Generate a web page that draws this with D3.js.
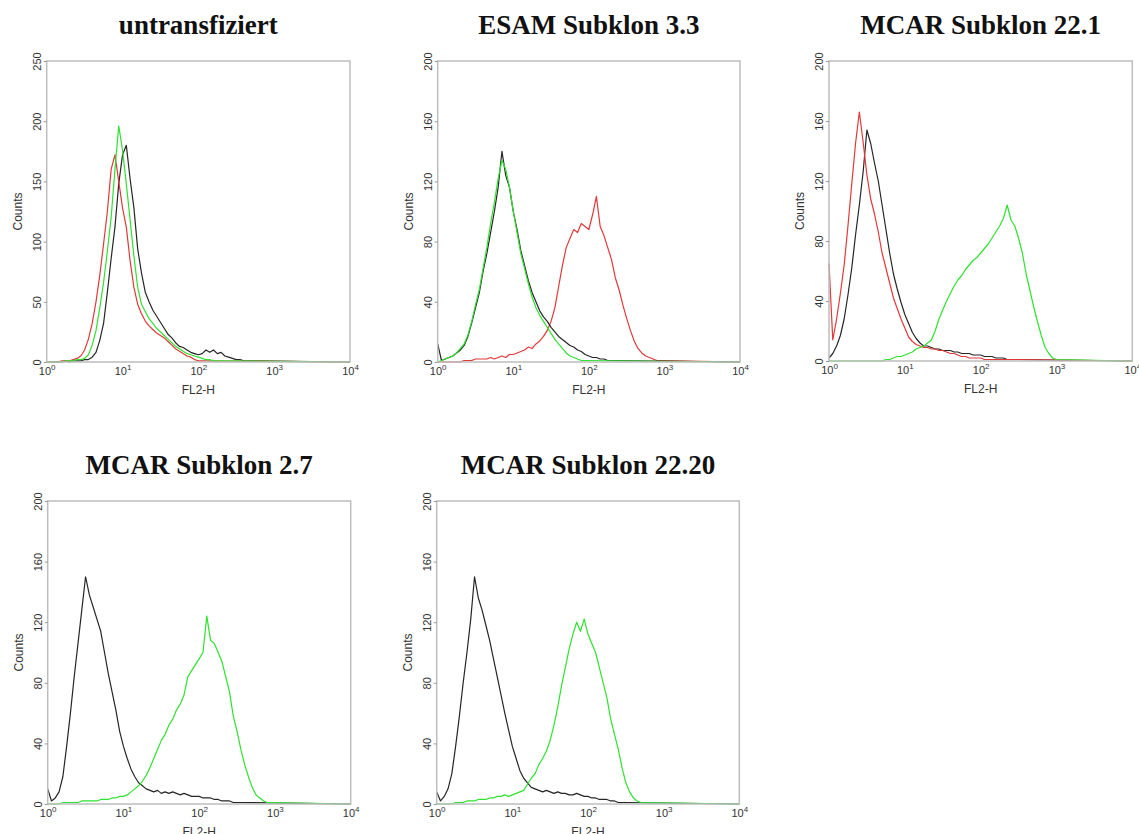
<!DOCTYPE html>
<html>
<head>
<meta charset="utf-8">
<script src="https://cdnjs.cloudflare.com/ajax/libs/d3/7.8.5/d3.min.js"></script>
<style>
  body { margin: 0; background: #fff; }
  svg { display: block; }
</style>
</head>
<body>
<svg id="chart" width="1139" height="834"></svg>
<script>
// histogram counts, one value every LOG_STEP decades starting at 10^0
const LOG_STEP = 0.05;

const titles = ['untransfiziert', 'ESAM Subklon 3.3', 'MCAR Subklon 22.1', 'MCAR Subklon 2.7', 'MCAR Subklon 22.20'];
const yMaxes = [250, 200, 200, 200, 200];
const yTicks = [
  [0, 50, 100, 150, 200, 250],
  [0, 40, 80, 120, 160, 200],
  [0, 40, 80, 120, 160, 200],
  [0, 40, 80, 120, 160, 200],
  [0, 40, 80, 120, 160, 200]
];
const decades = [1, 10, 100, 1000, 10000];
const xLabel = 'FL2-H';
const yLabel = 'Counts';

// untransfiziert
const p1Black = [0,0,0,0,0,1,0,1,1,1,2,2,4,8,18,32,58,86,112,148,172,180,152,128,94,74,58,50,43,38,33,28,23,20,16,13,12,10,8,7,6,7,10,8,10,7,8,5,4,3,2,2,1,1,1];
const p1Red = [0,0,0,0,1,1,1,2,3,5,10,19,32,50,72,98,125,160,172,150,128,112,84,62,48,40,34,30,27,24,22,20,17,14,11,9,7,5,4,2,1,1];
const p1Green = [0,0,0,0,0,1,1,1,2,2,3,6,14,26,45,66,92,120,160,196,176,148,118,88,62,48,42,36,32,28,25,22,19,16,13,11,9,7,6,5,4,3,2,2,1,1];

// ESAM Subklon 3.3
const p2Black = [12,1,2,3,4,6,8,11,17,26,36,46,60,72,86,100,116,140,124,116,100,88,74,64,54,46,40,34,30,27,23,20,17,15,13,11,10,8,7,5,4,3,3,2,2,1,1];
const p2Green = [0,1,2,3,4,6,9,12,18,27,38,48,62,76,92,106,122,134,128,116,100,86,72,62,52,43,36,31,27,23,19,15,12,9,6,4,3,2,1,1];
const p2Red = [0,0,0,0,0,0,0,1,1,1,2,2,2,2,3,2,3,4,3,5,5,6,7,8,10,9,12,14,17,21,27,36,50,64,76,82,88,86,92,90,88,98,110,90,84,76,68,56,48,38,29,21,14,9,6,4,3,2,1,1];

// MCAR Subklon 22.1
const p3Red = [65,14,28,45,64,90,118,145,166,146,124,108,98,86,72,62,52,42,35,28,22,16,13,11,10,9,9,8,8,7,7,6,5,5,4,3,3,2,2,2,2,1,1,1,1,1,1,1,1,1,1];
const p3Black = [2,5,10,17,28,44,62,84,104,126,154,145,132,120,104,88,72,58,48,39,31,25,19,15,12,10,10,9,8,8,7,7,7,6,6,5,5,5,4,4,4,3,3,3,2,2,2,1,1,1,1];
const p3Green = [0,0,0,0,0,0,0,0,0,0,0,0,0,0,0,1,1,2,3,3,4,5,6,8,9,10,12,14,20,28,34,40,45,50,54,57,61,64,67,69,72,75,78,82,86,90,95,104,94,90,82,72,58,47,36,26,17,9,5,2,1];

// MCAR Subklon 2.7
const p4Black = [10,2,4,8,18,38,60,84,106,128,150,138,130,122,114,100,86,74,62,48,38,30,23,18,14,12,10,9,8,9,7,8,7,8,7,6,7,6,5,5,5,4,4,4,3,3,2,2,2,1,1,1];
const p4Green = [0,0,0,0,1,1,1,1,1,2,2,2,2,2,3,3,3,4,4,5,5,6,8,10,12,15,19,24,30,36,42,46,52,56,62,66,72,84,88,92,96,100,124,108,106,100,94,84,74,58,48,36,26,18,11,6,4,2,1,1];

// MCAR Subklon 22.20
const p5Black = [8,2,5,10,20,38,58,80,100,122,150,136,128,118,108,96,84,72,60,49,38,30,22,17,14,11,10,9,8,9,8,7,8,7,7,6,6,7,6,5,5,4,4,3,3,3,2,2,1,1,1];
const p5Green = [0,0,0,0,0,1,1,1,2,2,2,3,3,3,4,4,5,5,6,5,6,7,8,9,13,17,20,26,30,35,42,52,64,78,90,102,112,120,114,122,112,106,100,90,80,70,56,46,36,24,14,8,4,2,1];

const RED = '#e2383a', GREEN = '#2fe22f', BLACK = '#262626';

const panels = [
  { series: [[p1Black, BLACK], [p1Red, RED], [p1Green, GREEN]] },
  { series: [[p2Red, RED], [p2Black, BLACK], [p2Green, GREEN]] },
  { series: [[p3Black, BLACK], [p3Red, RED], [p3Green, GREEN]] },
  { series: [[p4Black, BLACK], [p4Green, GREEN]] },
  { series: [[p5Black, BLACK], [p5Green, GREEN]] }
];

// plot frames (pixels)
const frames = [
  { l: 46.7, r: 350, t: 61, b: 362 },
  { l: 437.7, r: 740, t: 61, b: 362 },
  { l: 829, r: 1132.3, t: 61, b: 361 },
  { l: 47.7, r: 350.7, t: 501, b: 804 },
  { l: 436.7, r: 739.3, t: 501, b: 804 }
];

const svg = d3.select('#chart');
const sans = "'Liberation Sans', Arial, Helvetica, sans-serif";

panels.forEach((p, k) => {
  const f = frames[k];
  const x = d3.scaleLog().domain([1, 1e4]).range([f.l, f.r]);
  const y = d3.scaleLinear().domain([0, yMaxes[k]]).range([f.b, f.t]);
  const g = svg.append('g');

  // title
  g.append('text')
    .attr('x', (f.l + f.r) / 2).attr('y', f.t - 27)
    .attr('text-anchor', 'middle')
    .style('font-family', "'Liberation Serif', 'Times New Roman', serif")
    .style('font-weight', 'bold').style('font-size', '27px').style('fill', '#111')
    .text(titles[k]);

  // histogram lines
  const line = d3.line().x(d => x(d[0])).y(d => y(d[1]));
  p.series.forEach(([vals, color]) => {
    const pts = vals.map((v, i) => [Math.pow(10, i * LOG_STEP), v]);
    pts.push([1e4, 0]);
    g.append('path').attr('d', line(pts))
      .attr('fill', 'none').attr('stroke', color)
      .attr('stroke-width', 1.2).attr('stroke-linejoin', 'round');
  });

  // frame
  g.append('rect')
    .attr('x', f.l).attr('y', f.t).attr('width', f.r - f.l).attr('height', f.b - f.t)
    .attr('fill', 'none').attr('stroke', '#bdbdbd').attr('stroke-width', 1.5);

  // y axis
  const ya = g.append('g').attr('transform', `translate(${f.l},0)`)
    .call(d3.axisLeft(y).tickValues(yTicks[k]).tickSize(3));
  ya.select('.domain').remove();
  ya.selectAll('line').attr('stroke', '#999');
  ya.selectAll('text')
    .attr('transform', 'rotate(-90)')
    .attr('x', 0).attr('y', -6).attr('dy', 0)
    .attr('text-anchor', 'middle')
    .style('font-family', sans).style('font-size', '11px').style('fill', '#333');

  // x axis
  const xa = g.append('g').attr('transform', `translate(0,${f.b})`)
    .call(d3.axisBottom(x).tickValues(decades).tickSize(0).tickFormat(''));
  xa.select('.domain').remove();
  xa.selectAll('.tick').each(function (d) {
    const t = d3.select(this).append('text')
      .attr('y', 13).attr('text-anchor', 'middle')
      .style('font-family', sans).style('font-size', '11px').style('fill', '#333');
    t.append('tspan').text('10');
    t.append('tspan').attr('dy', -5).style('font-size', '8px').text(Math.round(Math.log10(d)));
  });

  g.append('text')
    .attr('x', (f.l + f.r) / 2).attr('y', f.b + 32)
    .attr('text-anchor', 'middle')
    .style('font-family', sans).style('font-size', '12px').style('fill', '#333')
    .text(xLabel);

  g.append('text')
    .attr('transform', `translate(${f.l - 25},${(f.t + f.b) / 2}) rotate(-90)`)
    .attr('text-anchor', 'middle')
    .style('font-family', sans).style('font-size', '12px').style('fill', '#333')
    .text(yLabel);
});
</script>
</body>
</html>
